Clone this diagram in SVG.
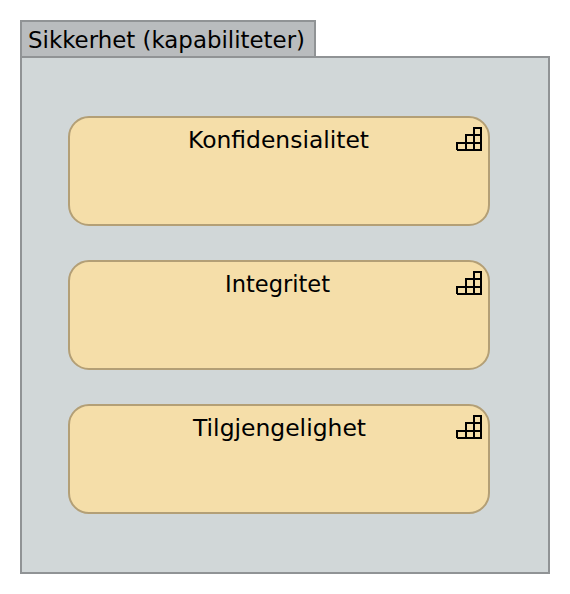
<svg xmlns="http://www.w3.org/2000/svg" width="570" height="594" viewBox="0 0 570 594">
<style>
text{font-family:"DejaVu Sans","Noto Sans",sans-serif;fill:#000;font-size:23px}
.box{fill:#f5dea9;stroke:#b39f76;stroke-width:2}
.ic{fill:none;stroke:#000;stroke-width:2}
</style>
<defs>
<g id="cap"><path class="ic" d="M457 150H481V128H474V150M457 150V143H481M466 150V135H481M474 135V150"/></g>
</defs>
<rect width="570" height="594" fill="#fff"/>
<g id="group">
<rect x="21" y="21" width="294" height="36" fill="#b9bcbe" stroke="#909395" stroke-width="2"/>
<rect x="21" y="57" width="528" height="516" fill="#d1d7d8" stroke="#909395" stroke-width="2"/>
<text x="28" y="47.500" style="font-size:22.500px" textLength="277" lengthAdjust="spacingAndGlyphs">Sikkerhet (kapabiliteter)</text>
</g>
<g id="n1">
<rect class="box" x="69" y="117" width="420" height="108" rx="20" ry="20"/>
<text x="188" y="147.500" textLength="181" lengthAdjust="spacingAndGlyphs">Konfidensialitet</text>
<use href="#cap"/>
</g>
<g id="n2">
<rect class="box" x="69" y="261" width="420" height="108" rx="20" ry="20"/>
<text x="225" y="291.500" textLength="105" lengthAdjust="spacingAndGlyphs">Integritet</text>
<use href="#cap" y="144"/>
</g>
<g id="n3">
<rect class="box" x="69" y="405" width="420" height="108" rx="20" ry="20"/>
<text x="193" y="435.500" textLength="173" lengthAdjust="spacingAndGlyphs">Tilgjengelighet</text>
<use href="#cap" y="288"/>
</g>
<g id="connectors"/>
</svg>
